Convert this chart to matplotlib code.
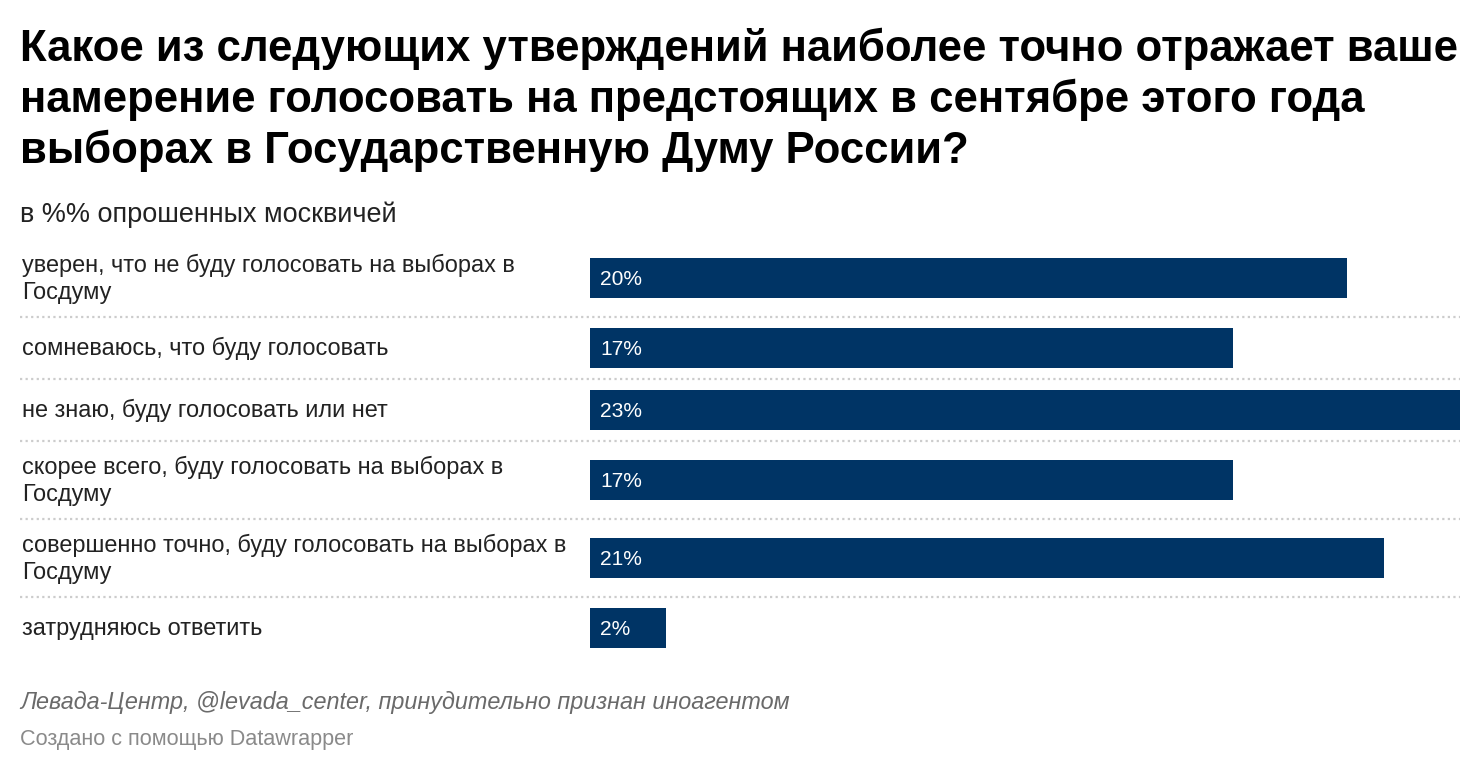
import matplotlib
matplotlib.use('Agg')
import matplotlib.pyplot as plt

# data
labels = [
    'уверен, что не буду голосовать на выборах в\nГосдуму',
    'сомневаюсь, что буду голосовать',
    'не знаю, буду голосовать или нет',
    'скорее всего, буду голосовать на выборах в\nГосдуму',
    'совершенно точно, буду голосовать на выборах в\nГосдуму',
    'затрудняюсь ответить',
]
values = [20, 17, 23, 17, 21, 2]

title = ('Какое из следующих утверждений наиболее точно отражает ваше\n'
         'намерение голосовать на предстоящих в сентябре этого года\n'
         'выборах в Государственную Думу России?')
subtitle = 'в %% опрошенных москвичей'
source = 'Левада-Центр, @levada_center, принудительно признан иноагентом'
credit = 'Создано с помощью Datawrapper'

W, H = 1482, 772
PX = 0.72  # points per pixel at dpi 100
FONT = 'Liberation Sans'
bar_color = '#003465'
text_color = '#222222'

fig = plt.figure(figsize=(W / 100, H / 100), dpi=100)
fig.patch.set_facecolor('white')

# full-figure axes in pixel coords for text and separators
ax = fig.add_axes([0, 0, 1, 1])
ax.set_xlim(0, W)
ax.set_ylim(H, 0)
ax.axis('off')

# bar axes: 590px .. 1460px covers 0 .. max value
x0, x1 = 590, 1460
bx = fig.add_axes([x0 / W, 0, (x1 - x0) / W, 1])
bx.set_xlim(0, max(values))
bx.set_ylim(H, 0)
bx.axis('off')

for k, line in enumerate(title.split('\n')):
    ax.text(20, 61 + 51 * k, line, fontsize=43.8 * PX, fontweight='bold', family=FONT,
            color='#000000', va='baseline', ha='left')
ax.text(20, 222, subtitle, fontsize=27 * PX, family=FONT, color=text_color, va='baseline')

# row layout: two-line labels get taller rows
row_top = 239
row_h = {1: 62, 2: 78}
bar_h = 40
line_gap = 27
y = row_top
for i, (lab, v) in enumerate(zip(labels, values)):
    lines = lab.split('\n')
    h = row_h[len(lines)]
    yc = y + h / 2
    first = yc - line_gap * (len(lines) - 1) / 2
    for k, line in enumerate(lines):
        ax.text(22, first + line_gap * k + 7.5, line, fontsize=23.5 * PX, family=FONT,
                color=text_color, va='baseline', ha='left')
    bx.barh(yc, v, height=bar_h, color=bar_color, left=0)
    bx.text(0.27, yc + 7, f'{v}%', fontsize=21 * PX, family=FONT, color='white',
            va='baseline', ha='left')
    if i < len(labels) - 1:
        ax.plot([20, 1460], [y + h, y + h], color='#cccccc', lw=1.6,
                ls=(0, (1, 1.5)), solid_capstyle='butt')
    y += h

ax.text(20, 709, source, fontsize=23.4 * PX, family=FONT, style='italic',
        color='#6a6a6a', va='baseline')
ax.text(20, 745, credit, fontsize=21.7 * PX, family=FONT, color='#8a8a8a', va='baseline')

fig.savefig('out.png', dpi=100, facecolor='white')
